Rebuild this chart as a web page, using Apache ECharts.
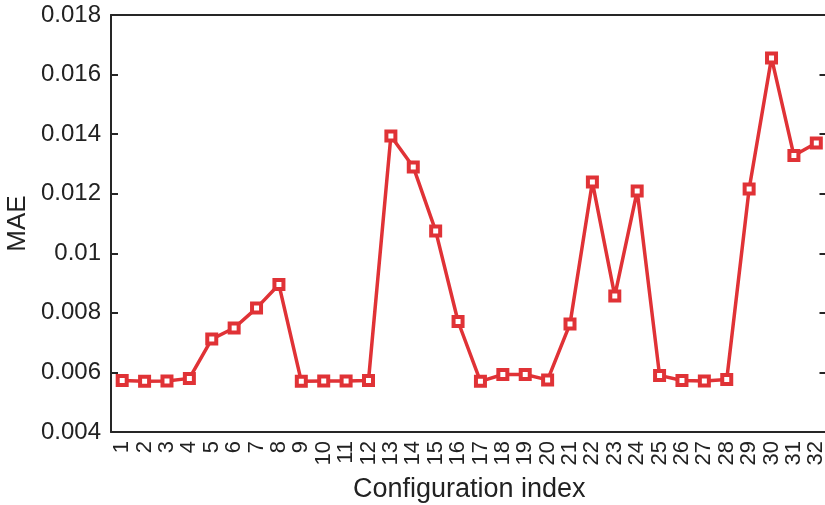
<!DOCTYPE html>
<html>
<head>
<meta charset="utf-8">
<script src="https://cdn.jsdelivr.net/npm/echarts@6/dist/echarts.min.js"></script>
<style>html,body{margin:0;padding:0;background:#fff}#c{width:825px;height:505px}</style>
</head>
<body>
<div id="c"></div>
<script>
const categories = ['1','2','3','4','5','6','7','8','9','10','11','12','13','14','15','16','17','18','19','20','21','22','23','24','25','26','27','28','29','30','31','32'];
const maeValues = [0.00573,0.00570,0.00571,0.00580,0.00712,0.00749,0.00816,0.00895,0.00570,0.00571,0.00571,0.00573,0.01394,0.01290,0.01075,0.00771,0.00570,0.00593,0.00593,0.00575,0.00763,0.01239,0.00857,0.01209,0.00590,0.00573,0.00571,0.00576,0.01216,0.01656,0.01328,0.01370];
const yTicks = {min:0.004, max:0.018, interval:0.002};

const chart = echarts.init(document.getElementById('c'), null, {renderer:'canvas'});
const font = 'Liberation Sans, Arial, sans-serif';
const axisColor = '#262626';
const red = '#e03236';
chart.setOption({
  animation:false,
  backgroundColor:'#fff',
  grid:{left:111, top:15, width:716.5, height:417, containLabel:false, outerBoundsMode:'none'},
  xAxis:[{
    type:'category', data:categories, boundaryGap:true, position:'bottom',
    name:'Configuration index', nameLocation:'middle', nameGap:44,
    nameTextStyle:{fontFamily:font, fontSize:27, color:'#222'},
    axisLine:{lineStyle:{color:axisColor, width:2}},
    axisTick:{inside:true, alignWithLabel:true, length:7, lineStyle:{color:axisColor, width:2}},
    axisLabel:{rotate:90, interval:0, margin:9, fontFamily:font, fontSize:22, color:'#222'},
    splitLine:{show:false}
  },{
    type:'category', data:categories, boundaryGap:true, position:'top',
    axisLine:{lineStyle:{color:axisColor, width:2}},
    axisTick:{inside:true, alignWithLabel:true, length:7, lineStyle:{color:axisColor, width:2}},
    axisLabel:{show:false}, splitLine:{show:false}
  }],
  yAxis:[{
    type:'value', min:yTicks.min, max:yTicks.max, interval:yTicks.interval, position:'left',
    name:'MAE', nameLocation:'middle', nameGap:80, nameMoveOverlap:false,
    nameTextStyle:{fontFamily:font, fontSize:26, color:'#222'},
    axisLine:{show:true, lineStyle:{color:axisColor, width:2}},
    axisTick:{show:true, inside:true, length:7, lineStyle:{color:axisColor, width:2}},
    axisLabel:{margin:10, fontFamily:font, fontSize:24, color:'#222',
      formatter:v=>String(parseFloat(v.toFixed(3)))},
    splitLine:{show:false}
  },{
    type:'value', min:yTicks.min, max:yTicks.max, interval:yTicks.interval, position:'right',
    axisLine:{show:false},
    axisTick:{show:true, inside:true, length:8, lineStyle:{color:axisColor, width:2}},
    axisLabel:{show:false}, splitLine:{show:false}
  }],
  series:[{
    type:'line', data:maeValues, xAxisIndex:0, yAxisIndex:0,
    symbol:'rect', symbolSize:9,
    lineStyle:{color:red, width:3.5},
    itemStyle:{color:'#fff', borderColor:red, borderWidth:4},
    emphasis:{disabled:true}
  }]
});
</script>
</body>
</html>
